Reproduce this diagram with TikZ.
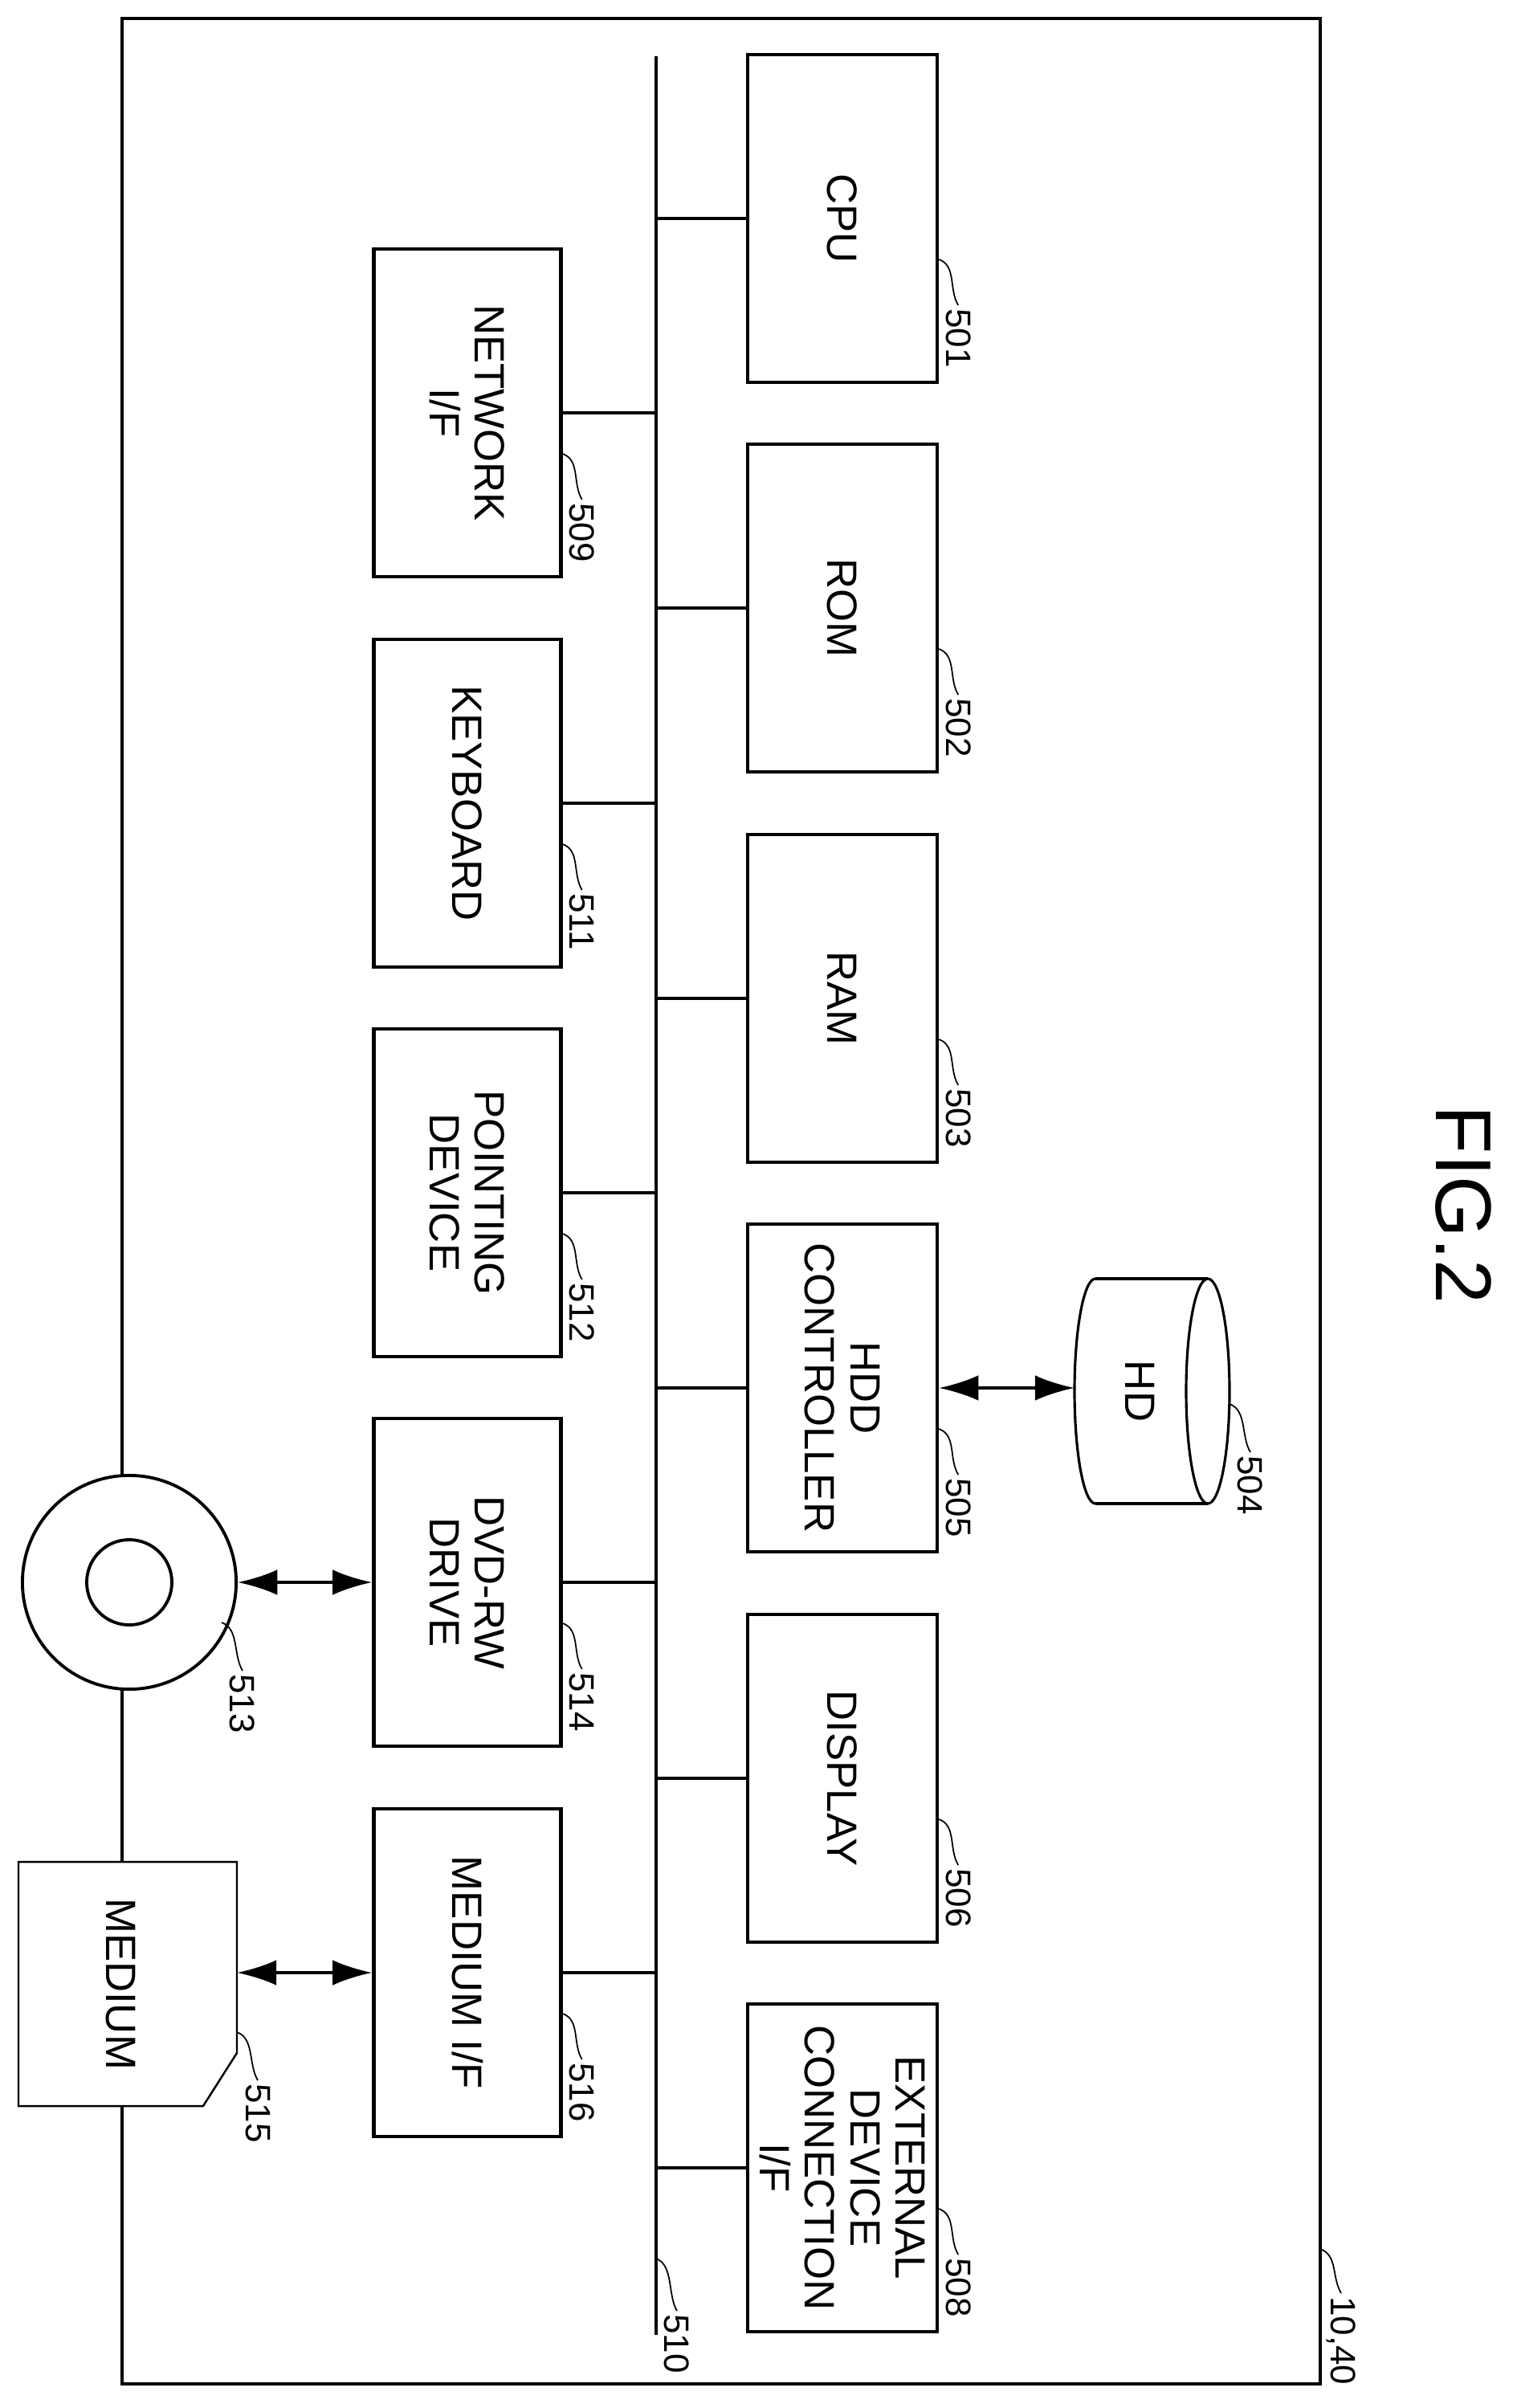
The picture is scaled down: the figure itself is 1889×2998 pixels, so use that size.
\documentclass[tikz,border=0pt]{standalone}
\usepackage{fontspec}
\setmainfont{Liberation Sans}
\usetikzlibrary{arrows.meta}
\begin{document}
\begin{tikzpicture}[x=0.01cm,y=-0.01cm,
  box/.style={draw,line width=1.2pt,align=center,rotate=-90,font=\fontsize{15}{16}\selectfont,inner sep=0pt},
  rbox/.style={box,minimum width=4.08cm,minimum height=2.36cm},
  lbox/.style={box,minimum width=4.08cm,minimum height=2.33cm},
  lbl/.style={rotate=-90,anchor=west,font=\fontsize{12.5}{12.5}\selectfont,inner sep=1pt},
  ld/.style={line width=0.5pt},
  con/.style={line width=1.1pt},
  arr/.style={line width=1.1pt,{Latex[length=14pt,width=9pt]}-{Latex[length=14pt,width=9pt]}}]
\useasboundingbox (0,0) rectangle (1889,2998);
% frame
\draw[line width=1.2pt] (152,23) rectangle (1644,2968);
% bus
\coordinate (bt) at (817,70); \coordinate (bb) at (817,2907);
\draw[con] (bt) -- (bb);
% right boxes
\node[rbox] (cpu) at (1049,272) {CPU};
\node[rbox] (rom) at (1049,757) {ROM};
\node[rbox] (ram) at (1049,1243) {RAM};
\node[rbox] (hddc) at (1049,1728) {HDD\\CONTROLLER};
\node[rbox] (disp) at (1049,2214) {DISPLAY};
\node[rbox] (ext) at (1049,2699) {EXTERNAL\\DEVICE\\CONNECTION\\I/F};
% left boxes
\node[lbox] (net) at (582,514) {NETWORK\\I/F};
\node[lbox] (kbd) at (582,1000) {KEYBOARD};
\node[lbox] (pt) at (582,1485) {POINTING\\DEVICE};
\node[lbox] (dvd) at (582,1970) {DVD-RW\\DRIVE};
\node[lbox] (mif) at (582,2456) {MEDIUM I/F};
% bus taps
\foreach \n in {cpu,rom,ram,hddc,disp,ext}{\draw[con] (\n.south) -- (\n.south -| bt);}
\foreach \n in {net,kbd,pt,dvd,mif}{\draw[con] (\n.north) -- (\n.north -| bt);}
% disc
\node[circle,draw,line width=1.1pt,fill=white,minimum size=2.66cm,inner sep=0pt] (disc) at (161,1970) {};
\node[circle,draw,line width=1.1pt,minimum size=1.06cm,inner sep=0pt] (discin) at (161,1970) {};
\draw[arr] (disc.east) -- (dvd.south);
% medium
\draw[line width=0.7pt,fill=white] (23,2318) -- (295,2318) -- (295,2556) -- (253,2622) -- (23,2622) -- cycle;
\node[rotate=-90,font=\fontsize{15}{15}\selectfont] (med) at (150,2470) {MEDIUM};
\coordinate (mede) at (295,2456);
\draw[arr] (mede) -- (mif.south);
% HD cylinder
\draw[line width=0.9pt] (1364,1592) -- (1504,1592);
\draw[line width=0.9pt] (1364,1872) -- (1504,1872);
\draw[line width=0.9pt] (1364,1592) arc[start angle=90,end angle=270,x radius=26,y radius=-140];
\draw[line width=0.9pt] (1504,1732) ellipse[x radius=27,y radius=140];
\node[rotate=-90,font=\fontsize{15}{15}\selectfont] (hd) at (1420,1732) {HD};
\coordinate (hdw) at (1338,1728);
\draw[arr] (hddc.north) -- (hdw);
% labels
\foreach \n/\t in {cpu/501,rom/502,ram/503,hddc/505,disp/506,ext/508,net/509,kbd/511,pt/512,dvd/514,mif/516}{
  \draw[ld] ([shift={(0,51)}]\n.north) .. controls +(22,8) and +(-12,-20) .. ++(24,57) node[lbl] {\t};}
\coordinate (c510) at (817,2812);
\draw[ld] (c510) .. controls +(22,8) and +(-12,-20) .. ++(26,65) node[lbl] {510};
\coordinate (c1040) at (1644,2800);
\draw[ld] (c1040) .. controls +(22,8) and +(-12,-20) .. ++(26,55) node[lbl] {10,40};
\coordinate (c504) at (1531,1748);
\draw[ld] (c504) .. controls +(22,8) and +(-12,-20) .. ++(26,60) node[lbl] {504};
\coordinate (c513) at (276,2020);
\draw[ld] (c513) .. controls +(22,8) and +(-12,-20) .. ++(26,60) node[lbl] {513};
\coordinate (c515) at (295,2530);
\draw[ld] (c515) .. controls +(22,8) and +(-12,-20) .. ++(26,60) node[lbl] {515};
% title
\node[rotate=-90,font=\fontsize{28}{28}\selectfont] (fig) at (1822,1500) {FIG.2};
\end{tikzpicture}
\end{document}
